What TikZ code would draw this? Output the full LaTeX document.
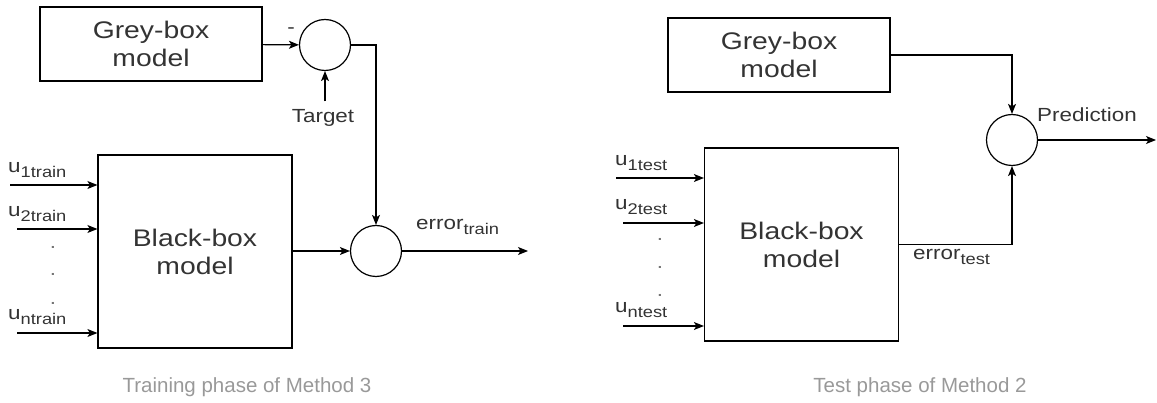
\documentclass[tikz,border=0pt]{standalone}
\usepackage{xcolor}
\usepackage{fontspec}
\setmainfont{Liberation Sans}
\newfontfamily\diagfont{Liberation Sans}[FakeStretch=1.18]
\usepackage{tikz}
\usetikzlibrary{positioning,arrows.meta,calc}
\definecolor{inkgrey}{HTML}{333333}
\definecolor{capgrey}{HTML}{999999}
\newcommand{\lowidx}[1]{\raisebox{-5pt}{\fontsize{15.5}{16}\selectfont #1}}

\begin{document}
\begin{tikzpicture}[x=1pt, y=-1pt,
   model/.style={draw, line width=1.2pt, minimum width=222pt, minimum height=74pt,
                 align=center, text=inkgrey, font=\diagfont\fontsize{24}{28}\selectfont},
   bbox/.style={model, minimum width=194pt, minimum height=193pt},
   sumc/.style={draw, circle, line width=1.2pt, minimum size=51pt, inner sep=0pt},
   lbl/.style={inner sep=1pt, text=inkgrey, font=\diagfont\fontsize{19}{22}\selectfont},
   dotlbl/.style={lbl, text=black!55, anchor=base},
   caption/.style={text=capgrey, font=\fontsize{20.5}{24}\selectfont},
   conn/.style={line width=1.2pt, ->},
   >={Stealth[length=10pt, width=8pt, inset=2.5pt]}]
  \useasboundingbox (0,0) rectangle (1157,403);

  % training phase
  \node[model] (grey1) at (151,44) {Grey-box\\model};
  \node[sumc] (diff1) at (325,45) {};
  \node[lbl] (minus1) at (291,31) {-};
  \node[lbl] (tgt) at (323,118) {Target};
  \node[bbox] (black1) at (195,251.5) {Black-box\\model};
  \node[sumc] (sum1) at (376,251) {};
  \node[lbl, anchor=west] (err1) at (415,227) {error\lowidx{train}};
  \coordinate (out1) at (528,251);

  \node[lbl, anchor=west] (u1a) at (7,170) {u\lowidx{1train}};
  \node[lbl, anchor=west] (u2a) at (7,214) {u\lowidx{2train}};
  \node[lbl, anchor=west] (una) at (7,317) {u\lowidx{ntrain}};
  \coordinate (in1a) at (10,185);
  \coordinate (in2a) at (17,229);
  \coordinate (inna) at (17,333);
  \foreach \y [count=\i] in {249,276,305}
    \node[dotlbl] (dota\i) at (53,\y) {.};

  \draw[conn] (grey1) -- (diff1);
  \draw[conn] ([yshift=7pt]diff1.south |- tgt.north) -- (diff1.south);
  \draw[conn] (diff1.east) -| (sum1.north);
  \draw[conn] (black1.east |- sum1) -- (sum1.west);
  \draw[conn] (sum1.east) -- (out1);
  \draw[conn] (in1a) -- (black1.west |- in1a);
  \draw[conn] (in2a) -- (black1.west |- in2a);
  \draw[conn] (inna) -- (black1.west |- inna);

  \node[caption] (cap1) at (247,387) {Training phase of Method 3};

  % test phase
  \node[model] (grey2) at (779,55) {Grey-box\\model};
  \node[sumc] (sum2) at (1012,140) {};
  \node[lbl, anchor=west] (pred) at (1036,115) {Prediction};
  \node[bbox] (black2) at (801.5,244.5) {Black-box\\model};
  \node[lbl, anchor=west] (err2) at (912,257) {error\lowidx{test}};
  \coordinate (out2) at (1156,140);

  \node[lbl, anchor=west] (u1b) at (614,163) {u\lowidx{1test}};
  \node[lbl, anchor=west] (u2b) at (614,207) {u\lowidx{2test}};
  \node[lbl, anchor=west] (unb) at (614,310) {u\lowidx{ntest}};
  \coordinate (in1b) at (616,178);
  \coordinate (in2b) at (623,223);
  \coordinate (innb) at (623,326);
  \foreach \y [count=\i] in {241,269,297}
    \node[dotlbl] (dotb\i) at (660,\y) {.};

  \draw[conn] (grey2.east) -| (sum2.north);
  \draw[conn] (black2.east) -| (sum2.south);
  \draw[conn] (sum2.east) -- (out2);
  \draw[conn] (in1b) -- (black2.west |- in1b);
  \draw[conn] (in2b) -- (black2.west |- in2b);
  \draw[conn] (innb) -- (black2.west |- innb);

  \node[caption] (cap2) at (920,387) {Test phase of Method 2};
\end{tikzpicture}
\end{document}
